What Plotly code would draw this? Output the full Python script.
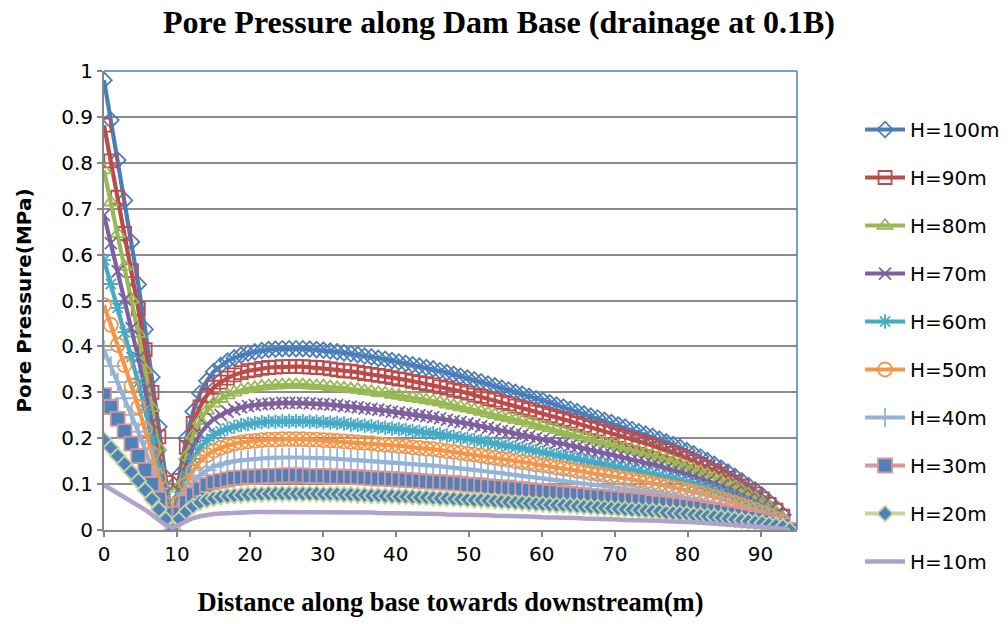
import plotly.graph_objects as go

# Node positions along the base (m)
x_m = [0, 0.94, 1.88, 2.82, 3.76, 4.7, 5.64, 6.58, 7.52, 8.46, 9.4,
       10.34, 11.28, 12.22, 13.16, 14.1, 15.04, 15.98, 16.92, 17.86, 18.8,
       19.74, 20.68, 21.62, 22.56, 23.5, 24.44, 25.38, 26.32, 27.26, 28.2,
       29.14, 30.08, 31.02, 31.96, 32.9, 33.84, 34.78, 35.72, 36.66, 37.6,
       38.54, 39.48, 40.42, 41.36, 42.3, 43.24, 44.18, 45.12, 46.06, 47,
       47.94, 48.88, 49.82, 50.76, 51.7, 52.64, 53.58, 54.52, 55.46, 56.4,
       57.34, 58.28, 59.22, 60.16, 61.1, 62.04, 62.98, 63.92, 64.86, 65.8,
       66.74, 67.68, 68.62, 69.56, 70.5, 71.44, 72.38, 73.32, 74.26, 75.2,
       76.14, 77.08, 78.02, 78.96, 79.9, 80.84, 81.78, 82.72, 83.66, 84.6,
       85.54, 86.48, 87.42, 88.36, 89.3, 90.24, 91.18, 92.12, 93.06, 94]

# Pore pressure (MPa) for each reservoir head
p_h100 = [0.980, 0.893, 0.806, 0.718, 0.628, 0.535, 0.437, 0.333, 0.225, 0.114, 0.000,
          0.120, 0.200, 0.258, 0.298, 0.325, 0.345, 0.358, 0.368, 0.375, 0.381,
          0.385, 0.388, 0.391, 0.393, 0.394, 0.395, 0.395, 0.395, 0.395, 0.394,
          0.393, 0.392, 0.390, 0.388, 0.386, 0.384, 0.382, 0.379, 0.377, 0.374,
          0.372, 0.369, 0.366, 0.363, 0.360, 0.357, 0.354, 0.351, 0.347, 0.343,
          0.339, 0.335, 0.331, 0.327, 0.323, 0.318, 0.314, 0.309, 0.305, 0.300,
          0.296, 0.291, 0.286, 0.282, 0.277, 0.272, 0.268, 0.263, 0.258, 0.253,
          0.248, 0.244, 0.239, 0.234, 0.229, 0.224, 0.219, 0.214, 0.209, 0.204,
          0.198, 0.192, 0.186, 0.180, 0.173, 0.166, 0.159, 0.151, 0.143, 0.135,
          0.126, 0.117, 0.107, 0.097, 0.087, 0.075, 0.062, 0.048, 0.033, 0.000]
p_h90 = [0.882, 0.804, 0.725, 0.646, 0.565, 0.482, 0.393, 0.300, 0.203, 0.103, 0.000,
         0.108, 0.180, 0.232, 0.268, 0.293, 0.311, 0.322, 0.331, 0.338, 0.343,
         0.347, 0.349, 0.352, 0.354, 0.355, 0.356, 0.356, 0.356, 0.356, 0.355,
         0.354, 0.353, 0.351, 0.349, 0.347, 0.346, 0.344, 0.341, 0.339, 0.337,
         0.335, 0.332, 0.329, 0.327, 0.324, 0.321, 0.319, 0.316, 0.312, 0.309,
         0.305, 0.302, 0.298, 0.294, 0.291, 0.286, 0.283, 0.278, 0.275, 0.270,
         0.266, 0.262, 0.257, 0.254, 0.249, 0.245, 0.241, 0.237, 0.232, 0.228,
         0.223, 0.220, 0.215, 0.211, 0.206, 0.202, 0.197, 0.193, 0.188, 0.184,
         0.178, 0.173, 0.167, 0.162, 0.156, 0.149, 0.143, 0.136, 0.129, 0.122,
         0.113, 0.105, 0.096, 0.087, 0.078, 0.068, 0.056, 0.043, 0.030, 0.000]
p_h80 = [0.784, 0.714, 0.645, 0.574, 0.502, 0.428, 0.350, 0.266, 0.180, 0.091, 0.000,
         0.096, 0.160, 0.206, 0.238, 0.260, 0.276, 0.286, 0.294, 0.300, 0.305,
         0.308, 0.310, 0.313, 0.314, 0.315, 0.316, 0.316, 0.316, 0.316, 0.315,
         0.314, 0.314, 0.312, 0.310, 0.309, 0.307, 0.306, 0.303, 0.302, 0.299,
         0.298, 0.295, 0.293, 0.290, 0.288, 0.286, 0.283, 0.281, 0.278, 0.274,
         0.271, 0.268, 0.265, 0.262, 0.258, 0.254, 0.251, 0.247, 0.244, 0.240,
         0.237, 0.233, 0.229, 0.226, 0.222, 0.218, 0.214, 0.210, 0.206, 0.202,
         0.198, 0.195, 0.191, 0.187, 0.183, 0.179, 0.175, 0.171, 0.167, 0.163,
         0.158, 0.154, 0.149, 0.144, 0.138, 0.133, 0.127, 0.121, 0.114, 0.108,
         0.101, 0.094, 0.086, 0.078, 0.070, 0.060, 0.050, 0.038, 0.026, 0.000]
p_h70 = [0.686, 0.625, 0.564, 0.503, 0.440, 0.375, 0.306, 0.233, 0.158, 0.080, 0.000,
         0.084, 0.140, 0.181, 0.209, 0.228, 0.242, 0.251, 0.258, 0.263, 0.267,
         0.270, 0.272, 0.274, 0.275, 0.276, 0.277, 0.277, 0.277, 0.277, 0.276,
         0.275, 0.274, 0.273, 0.272, 0.270, 0.269, 0.267, 0.265, 0.264, 0.262,
         0.260, 0.258, 0.256, 0.254, 0.252, 0.250, 0.248, 0.246, 0.243, 0.240,
         0.237, 0.235, 0.232, 0.229, 0.226, 0.223, 0.220, 0.216, 0.214, 0.210,
         0.207, 0.204, 0.200, 0.197, 0.194, 0.190, 0.188, 0.184, 0.181, 0.177,
         0.174, 0.171, 0.167, 0.164, 0.160, 0.157, 0.153, 0.150, 0.146, 0.143,
         0.139, 0.134, 0.130, 0.126, 0.121, 0.116, 0.111, 0.106, 0.100, 0.095,
         0.088, 0.082, 0.075, 0.068, 0.061, 0.053, 0.043, 0.034, 0.023, 0.000]
p_h60 = [0.588, 0.536, 0.484, 0.431, 0.377, 0.321, 0.262, 0.200, 0.135, 0.068, 0.000,
         0.072, 0.120, 0.155, 0.179, 0.195, 0.207, 0.215, 0.221, 0.225, 0.229,
         0.231, 0.233, 0.235, 0.236, 0.236, 0.237, 0.237, 0.237, 0.237, 0.236,
         0.236, 0.235, 0.234, 0.233, 0.232, 0.230, 0.229, 0.227, 0.226, 0.224,
         0.223, 0.221, 0.220, 0.218, 0.216, 0.214, 0.212, 0.211, 0.208, 0.206,
         0.203, 0.201, 0.199, 0.196, 0.194, 0.191, 0.188, 0.185, 0.183, 0.180,
         0.178, 0.175, 0.172, 0.169, 0.166, 0.163, 0.161, 0.158, 0.155, 0.152,
         0.149, 0.146, 0.143, 0.140, 0.137, 0.134, 0.131, 0.128, 0.125, 0.122,
         0.119, 0.115, 0.112, 0.108, 0.104, 0.100, 0.095, 0.091, 0.086, 0.081,
         0.076, 0.070, 0.064, 0.058, 0.052, 0.045, 0.037, 0.029, 0.020, 0.000]
p_h50 = [0.490, 0.447, 0.403, 0.359, 0.314, 0.268, 0.219, 0.167, 0.113, 0.057, 0.000,
         0.060, 0.100, 0.129, 0.149, 0.163, 0.173, 0.179, 0.184, 0.188, 0.191,
         0.193, 0.194, 0.196, 0.197, 0.197, 0.198, 0.198, 0.198, 0.198, 0.197,
         0.197, 0.196, 0.195, 0.194, 0.193, 0.192, 0.191, 0.190, 0.189, 0.187,
         0.186, 0.185, 0.183, 0.182, 0.180, 0.179, 0.177, 0.176, 0.174, 0.172,
         0.170, 0.168, 0.166, 0.164, 0.162, 0.159, 0.157, 0.155, 0.153, 0.150,
         0.148, 0.146, 0.143, 0.141, 0.139, 0.136, 0.134, 0.132, 0.129, 0.127,
         0.124, 0.122, 0.120, 0.117, 0.115, 0.112, 0.110, 0.107, 0.105, 0.102,
         0.099, 0.096, 0.093, 0.090, 0.087, 0.083, 0.080, 0.076, 0.072, 0.068,
         0.063, 0.059, 0.054, 0.049, 0.044, 0.038, 0.031, 0.024, 0.017, 0.000]
p_h40 = [0.392, 0.357, 0.322, 0.287, 0.251, 0.214, 0.175, 0.133, 0.090, 0.046, 0.000,
         0.048, 0.080, 0.103, 0.119, 0.130, 0.138, 0.143, 0.147, 0.150, 0.152,
         0.154, 0.155, 0.156, 0.157, 0.158, 0.158, 0.158, 0.158, 0.158, 0.158,
         0.157, 0.157, 0.156, 0.155, 0.154, 0.154, 0.153, 0.152, 0.151, 0.150,
         0.149, 0.148, 0.146, 0.145, 0.144, 0.143, 0.142, 0.140, 0.139, 0.137,
         0.136, 0.134, 0.132, 0.131, 0.129, 0.127, 0.126, 0.124, 0.122, 0.120,
         0.118, 0.116, 0.114, 0.113, 0.111, 0.109, 0.107, 0.105, 0.103, 0.101,
         0.099, 0.098, 0.096, 0.094, 0.092, 0.090, 0.088, 0.086, 0.084, 0.082,
         0.079, 0.077, 0.074, 0.072, 0.069, 0.066, 0.064, 0.060, 0.057, 0.054,
         0.050, 0.047, 0.043, 0.039, 0.035, 0.030, 0.025, 0.019, 0.013, 0.000]
p_h30 = [0.294, 0.268, 0.242, 0.215, 0.188, 0.161, 0.131, 0.100, 0.068, 0.034, 0.000,
         0.036, 0.060, 0.077, 0.089, 0.098, 0.104, 0.107, 0.110, 0.113, 0.114,
         0.116, 0.116, 0.117, 0.118, 0.118, 0.119, 0.119, 0.119, 0.119, 0.118,
         0.118, 0.118, 0.117, 0.116, 0.116, 0.115, 0.115, 0.114, 0.113, 0.112,
         0.112, 0.111, 0.110, 0.109, 0.108, 0.107, 0.106, 0.105, 0.104, 0.103,
         0.102, 0.101, 0.099, 0.098, 0.097, 0.095, 0.094, 0.093, 0.092, 0.090,
         0.089, 0.087, 0.086, 0.085, 0.083, 0.082, 0.080, 0.079, 0.077, 0.076,
         0.074, 0.073, 0.072, 0.070, 0.069, 0.067, 0.066, 0.064, 0.063, 0.061,
         0.059, 0.058, 0.056, 0.054, 0.052, 0.050, 0.048, 0.045, 0.043, 0.041,
         0.038, 0.035, 0.032, 0.029, 0.026, 0.023, 0.019, 0.014, 0.010, 0.000]
p_h20 = [0.196, 0.179, 0.161, 0.144, 0.126, 0.107, 0.087, 0.067, 0.045, 0.023, 0.000,
         0.024, 0.040, 0.052, 0.060, 0.065, 0.069, 0.072, 0.074, 0.075, 0.076,
         0.077, 0.078, 0.078, 0.079, 0.079, 0.079, 0.079, 0.079, 0.079, 0.079,
         0.079, 0.078, 0.078, 0.078, 0.077, 0.077, 0.076, 0.076, 0.075, 0.075,
         0.074, 0.074, 0.073, 0.073, 0.072, 0.071, 0.071, 0.070, 0.069, 0.069,
         0.068, 0.067, 0.066, 0.065, 0.065, 0.064, 0.063, 0.062, 0.061, 0.060,
         0.059, 0.058, 0.057, 0.056, 0.055, 0.054, 0.054, 0.053, 0.052, 0.051,
         0.050, 0.049, 0.048, 0.047, 0.046, 0.045, 0.044, 0.043, 0.042, 0.041,
         0.040, 0.038, 0.037, 0.036, 0.035, 0.033, 0.032, 0.030, 0.029, 0.027,
         0.025, 0.023, 0.021, 0.019, 0.017, 0.015, 0.012, 0.010, 0.007, 0.000]
p_h10 = [0.098, 0.089, 0.081, 0.072, 0.063, 0.054, 0.044, 0.033, 0.023, 0.011, 0.005,
         0.012, 0.020, 0.026, 0.030, 0.033, 0.035, 0.036, 0.037, 0.038, 0.038,
         0.039, 0.039, 0.039, 0.039, 0.039, 0.040, 0.040, 0.040, 0.040, 0.039,
         0.039, 0.039, 0.039, 0.039, 0.039, 0.038, 0.038, 0.038, 0.038, 0.037,
         0.037, 0.037, 0.037, 0.036, 0.036, 0.036, 0.035, 0.035, 0.035, 0.034,
         0.034, 0.034, 0.033, 0.033, 0.032, 0.032, 0.031, 0.031, 0.031, 0.030,
         0.030, 0.029, 0.029, 0.028, 0.028, 0.027, 0.027, 0.026, 0.026, 0.025,
         0.025, 0.024, 0.024, 0.023, 0.023, 0.022, 0.022, 0.021, 0.021, 0.020,
         0.020, 0.019, 0.019, 0.018, 0.017, 0.017, 0.016, 0.015, 0.014, 0.014,
         0.013, 0.012, 0.011, 0.010, 0.009, 0.008, 0.006, 0.005, 0.003, 0.000]

series_names = ["H=100m", "H=90m", "H=80m", "H=70m", "H=60m",
                "H=50m", "H=40m", "H=30m", "H=20m", "H=10m"]
series_values = [p_h100, p_h90, p_h80, p_h70, p_h60,
                 p_h50, p_h40, p_h30, p_h20, p_h10]

y_ticks = [0, 0.1, 0.2, 0.3, 0.4, 0.5, 0.6, 0.7, 0.8, 0.9, 1]
y_tick_text = ["0", "0.1", "0.2", "0.3", "0.4", "0.5", "0.6", "0.7", "0.8", "0.9", "1"]
x_ticks = [0, 10, 20, 30, 40, 50, 60, 70, 80, 90]

# line colour, marker symbol, marker size, marker fill, marker outline
styles = [
    ("#4A7EBB", "diamond-open", 12, None, "#4A7EBB"),
    ("#BE4B48", "square-open", 13, None, "#BE4B48"),
    ("#98B954", "triangle-up-open", 13, None, "#98B954"),
    ("#7D60A0", "x-thin-open", 12, None, "#7D60A0"),
    ("#46AAC5", "asterisk-open", 12, None, "#46AAC5"),
    ("#F69545", "circle-open", 14, None, "#F69545"),
    ("#95B3D7", "cross-thin-open", 14, None, "#95B3D7"),
    ("#D99694", "square", 14, "#4F81BD", "#D99694"),
    ("#C3D69B", "diamond", 12, "#4F81BD", "#C3D69B"),
    ("#B3A2C7", None, 0, None, None),
]

SANS = "DejaVu Sans"
SERIF = "Liberation Serif"

fig = go.Figure()
for name, vals, (lc, sym, msz, mfill, mline) in zip(series_names, series_values, styles):
    if sym is None:
        fig.add_trace(go.Scatter(
            x=x_m, y=vals, name=name, mode="lines", legendgroup=name,
            line=dict(color=lc, width=4.5)))
    else:
        marker = dict(symbol=sym, size=msz,
                      line=dict(color=mline, width=1.8))
        marker["color"] = mfill if mfill else mline
        fig.add_trace(go.Scatter(
            x=x_m, y=vals, name=name, mode="lines+markers", legendgroup=name,
            line=dict(color=lc, width=4.2), marker=marker))

fig.update_layout(
    width=1008, height=624,
    margin=dict(l=104, r=211, t=71, b=94, autoexpand=False),
    paper_bgcolor="white", plot_bgcolor="white",
    title=dict(text="<b>Pore Pressure along Dam Base (drainage at 0.1B)</b>",
               x=0.495, xanchor="center", y=0.965, yanchor="middle",
               font=dict(family=SERIF, size=32, color="black")),
    legend=dict(x=1.091, xanchor="left", y=0.915, yanchor="top",
                font=dict(family=SANS, size=20, color="black"),
                tracegroupgap=19, itemwidth=40, bgcolor="rgba(0,0,0,0)",
                maxheight=600),
    showlegend=True,
)

fig.update_xaxes(
    range=[0, 95], tickmode="array", tickvals=x_ticks,
    showgrid=False, showline=True, linecolor="#868686", linewidth=2,
    ticks="outside", ticklen=5, tickcolor="#868686", tickwidth=1.5,
    tickfont=dict(family=SANS, size=20, color="black"),
    title=dict(text="<b>Distance along base towards downstream(m)</b>",
               font=dict(family=SERIF, size=26.5, color="black"), standoff=27),
    zeroline=False,
)
fig.update_yaxes(
    range=[0, 1], tickmode="array", tickvals=y_ticks, ticktext=y_tick_text,
    showgrid=True, gridcolor="#8C8C8C", gridwidth=1.5,
    showline=True, linecolor="#868686", linewidth=2,
    ticks="outside", ticklen=5, tickcolor="#868686", tickwidth=1.5,
    tickfont=dict(family=SANS, size=20, color="black"),
    title=dict(text="<b>Pore Pressure(MPa)</b>",
               font=dict(family=SANS, size=20, color="black"), standoff=24),
    zeroline=False,
)

# plot-area border on the top and right edges
fig.add_shape(type="line", xref="paper", yref="paper", x0=0, x1=1, y0=1, y1=1,
              line=dict(color="#4A7EBB", width=1.5), layer="above")
fig.add_shape(type="line", xref="paper", yref="paper", x0=1, x1=1, y0=0, y1=1,
              line=dict(color="#4A7EBB", width=1.5), layer="above")

fig.write_html("out.html")
